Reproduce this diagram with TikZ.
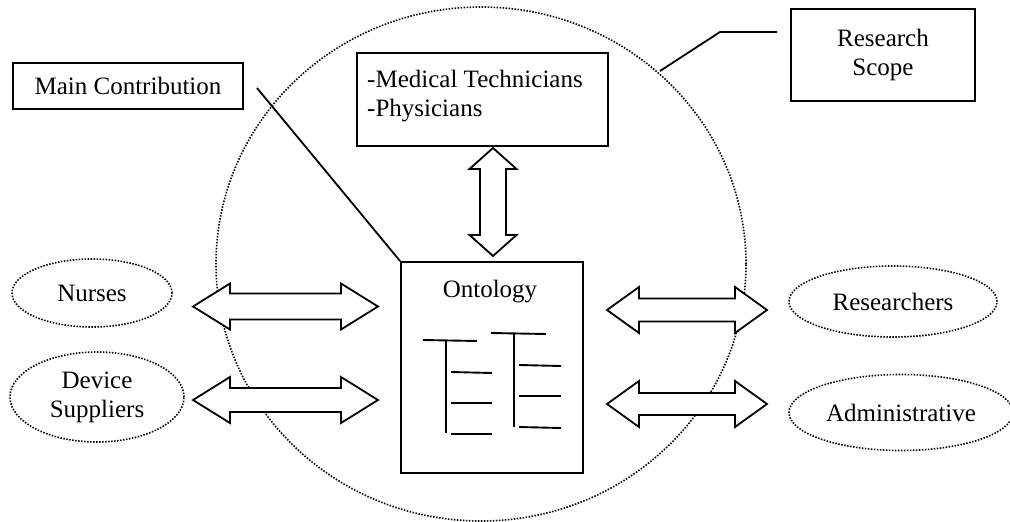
\documentclass[tikz,border=0pt]{standalone}
\usepackage{fontspec}
\setmainfont{Liberation Serif}
\usetikzlibrary{shapes.geometric,calc}

% horizontal block arrow with a head at each end:
% #1 left tip, #2 right tip, #3 head length, #4 head half-width, #5 shaft half-width
\newcommand\hblockarrow[5]{%
  \draw[blockarrow] (#1) -- ++(#3,-#4) -- ++(0,#4-#5) -- ($(#2)+(-#3,-#5)$)
    -- ++(0,-#4+#5) -- (#2) -- ++(-#3,#4) -- ++(0,-#4+#5)
    -- ($(#1)+(#3,#5)$) -- ++(0,#4-#5) -- cycle;}
% vertical block arrow with a head at each end: #1 top tip, #2 bottom tip
\newcommand\vblockarrow[5]{%
  \draw[blockarrow] (#1) -- ++(-#4,#3) -- ++(#4-#5,0) -- ($(#2)+(-#5,-#3)$)
    -- ++(-#4+#5,0) -- (#2) -- ++(#4,-#3) -- ++(-#4+#5,0)
    -- ($(#1)+(#5,#3)$) -- ++(#4-#5,0) -- cycle;}

\begin{document}
\begin{tikzpicture}[x=1pt,y=-1pt,
  every node/.style={font=\fontsize{25}{29}\selectfont, inner sep=0pt},
  box/.style={draw, line width=1.8pt, rectangle},
  dotline/.style={line width=1.6pt, dash pattern=on 1.5pt off 1.5pt},
  actor/.style={ellipse, dotline, draw},
  blockarrow/.style={draw, fill=white, line width=1.8pt, line join=miter},
  lead/.style={line width=1.8pt},
  tree/.style={line width=1.9pt}]

\useasboundingbox (0,0) rectangle (1010,522);

% research scope
\draw[dotline] (481,264) ellipse [x radius=265pt, y radius=257pt];

% callout boxes
\node[box, minimum width=230pt, minimum height=46pt] (main) at (128,86) {Main Contribution};
\node[box, minimum width=184pt, minimum height=92pt, align=center] (scope) at (883,55) {Research\\Scope};

% clinical staff
\node[box, minimum width=251pt, minimum height=93pt] (staff) at (482.5,99.5) {};
\node[anchor=base west, align=left] (stafftext) at (367,116) {-Medical Technicians\\-Physicians};

% ontology document
\node[box, minimum width=182pt, minimum height=211pt] (onto) at (492,367.5) {};
\node (ontotitle) at (490,292) {Ontology};
\draw[tree] (423,340) -- (477,341);
\draw[tree] (446,341) -- (446,433);
\draw[tree] (451,372) -- (492,373);
\draw[tree] (451,403) -- (492,403);
\draw[tree] (451,434) -- (492,434);
\draw[tree] (491,333) -- (546,334);
\draw[tree] (514,334) -- (514,427);
\draw[tree] (519,365) -- (561,366);
\draw[tree] (519,396) -- (561,396);
\draw[tree] (519,427) -- (561,428);

% stakeholders
\node[actor, minimum width=160pt, minimum height=68pt] (nurses) at (92,293) {Nurses};
\node[actor, minimum width=174pt, minimum height=90pt, align=center] (suppliers) at (97,397) {Device\\Suppliers};
\node[actor, minimum width=208pt, minimum height=71pt] (researchers) at (893,301.5) {Researchers};
\node[actor, minimum width=224pt, minimum height=76pt] (admin) at (901,412.5) {Administrative};

% lead lines of the callouts
\coordinate (mainlead) at (257,88);
\draw[lead] (mainlead) -- (onto.north west);
\coordinate (scopeedge) at (660,71);
\coordinate (scopebend) at (720,32);
\coordinate (scopelead) at (777,32);
\draw[lead] (scopeedge) -- (scopebend) -- (scopelead);

% exchanges with the ontology
\coordinate (a1l) at (193,306.5);
\coordinate (a1r) at (378,306.5);
\coordinate (a2l) at (193,400);
\coordinate (a2r) at (378,400);
\coordinate (a3l) at (607,310);
\coordinate (a3r) at (767,310);
\coordinate (a4l) at (607,404);
\coordinate (a4r) at (767,404);
\coordinate (a5t) at (493,148);
\coordinate (a5b) at (493,256);
\hblockarrow{a1l}{a1r}{37}{23}{13}
\hblockarrow{a2l}{a2r}{37}{23}{12}
\hblockarrow{a3l}{a3r}{32}{23}{11.5}
\hblockarrow{a4l}{a4r}{32}{23}{11}
\vblockarrow{a5t}{a5b}{21}{23.5}{13}
\end{tikzpicture}
\end{document}
